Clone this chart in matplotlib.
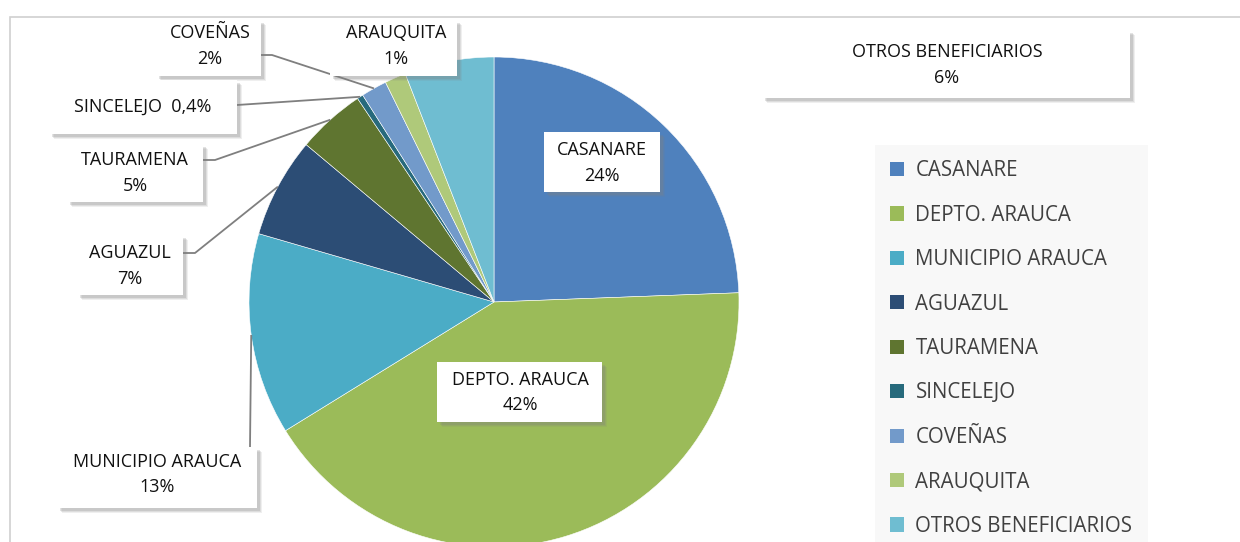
import numpy as np
import matplotlib
matplotlib.use("Agg")
import matplotlib.pyplot as plt
from matplotlib.patches import Rectangle

plt.rcParams['font.family'] = ['Open Sans', 'DejaVu Sans']

# data
names = ["CASANARE", "DEPTO. ARAUCA", "MUNICIPIO ARAUCA", "AGUAZUL", "TAURAMENA",
         "SINCELEJO", "COVEÑAS", "ARAUQUITA", "OTROS BENEFICIARIOS"]
shares = [24.4, 41.8, 13.3, 6.6, 4.5, 0.4, 1.7, 1.4, 5.9]
pct_labels = ["24%", "42%", "13%", "7%", "5%", "0,4%", "2%", "1%", "6%"]
colors = ["#4F81BD", "#9BBB59", "#4BACC6", "#2C4D75", "#5F7530",
          "#276A7C", "#729ACA", "#AFC97A", "#6FBDD1"]

W, H = 1240, 542
fig = plt.figure(figsize=(W / 100, H / 100), dpi=100)
ax = fig.add_axes([0, 0, 1, 1])

def Y(y):  # picture row -> data y
    return H - y

cx, cy, R = 494, Y(302), 245
wedges, _ = ax.pie(shares, colors=colors, startangle=90, counterclock=False,
                   center=(cx, cy), radius=R,
                   wedgeprops=dict(edgecolor="white", linewidth=0.4))
ax.set_xlim(0, W)
ax.set_ylim(0, H)
ax.set_aspect("auto")
ax.axis("off")

# outer frame of the chart area
ax.add_patch(Rectangle((10, Y(560)), 1260, 543, fill=False, ec="#d0d0d0", lw=1.2, zorder=0))

def edge_point(i):
    w = wedges[i]
    a = np.deg2rad((w.theta1 + w.theta2) / 2)
    return cx + R * np.cos(a), cy + R * np.sin(a)

def box(x0, y0, x1, y1, lines, ys, tx):
    for k, al in [(5, 0.12), (4, 0.16), (3, 0.22)]:
        ax.add_patch(Rectangle((x0 + k, Y(y1) - k), x1 - x0, y1 - y0,
                               fc="#808080", ec="none", alpha=al, zorder=3))
    ax.add_patch(Rectangle((x0, Y(y1)), x1 - x0, y1 - y0, fc="white", ec="none", zorder=4))
    for s, yy in zip(lines, ys):
        ax.text(tx, Y(yy), s, ha="center", va="center", fontsize=13, color="#111111", zorder=5)

def leader(i, pts):
    ex, ey = edge_point(i)
    xs = [p[0] for p in pts] + [ex]
    ys = [Y(p[1]) for p in pts] + [ey]
    ax.plot(xs, ys, color="#7f7f7f", lw=1.3, zorder=2, solid_capstyle="butt")

leader(6, [(261, 55), (272, 55)])
leader(5, [(237, 105)])
leader(4, [(203, 160), (215, 160)])
leader(3, [(183, 253), (195, 253)])
leader(2, [(250, 447)])

box(544, 132, 660, 192, [names[0], pct_labels[0]], [150, 176], 602)
box(437, 362, 602, 422, [names[1], pct_labels[1]], [380, 405], 520)
box(57, 447, 257, 508, [names[2], pct_labels[2]], [462, 487], 157)
box(77, 235, 183, 295, [names[3], pct_labels[3]], [253, 279], 130)
box(67, 144, 203, 202, [names[4], pct_labels[4]], [160, 186], 135)
box(49, 80, 237, 134, [names[5] + "  " + pct_labels[5]], [107], 143)
box(156, 20, 261, 76, [names[6], pct_labels[6]], [33, 59], 210)
box(330, 20, 457, 76, [names[7], pct_labels[7]], [33, 59], 396)
box(762, 30, 1130, 98, [names[8], pct_labels[8]], [52, 78], 947)

# legend
ax.add_patch(Rectangle((875, Y(560)), 273, 560 - 145, fc="#f8f8f8", ec="none", zorder=1))
leg = ax.legend(wedges, names, loc="upper left", bbox_to_anchor=(875 / W, 1 - 145 / H),
                bbox_transform=fig.transFigure, frameon=False, fontsize=14.8,
                handlelength=0.68, handleheight=0.68, handletextpad=0.55,
                labelspacing=1.14, borderpad=0.74, borderaxespad=0)
for t in leg.get_texts():
    t.set_color("#404040")
for h in leg.legend_handles:
    h.set_edgecolor("none")

fig.savefig("out.png", dpi=100)
